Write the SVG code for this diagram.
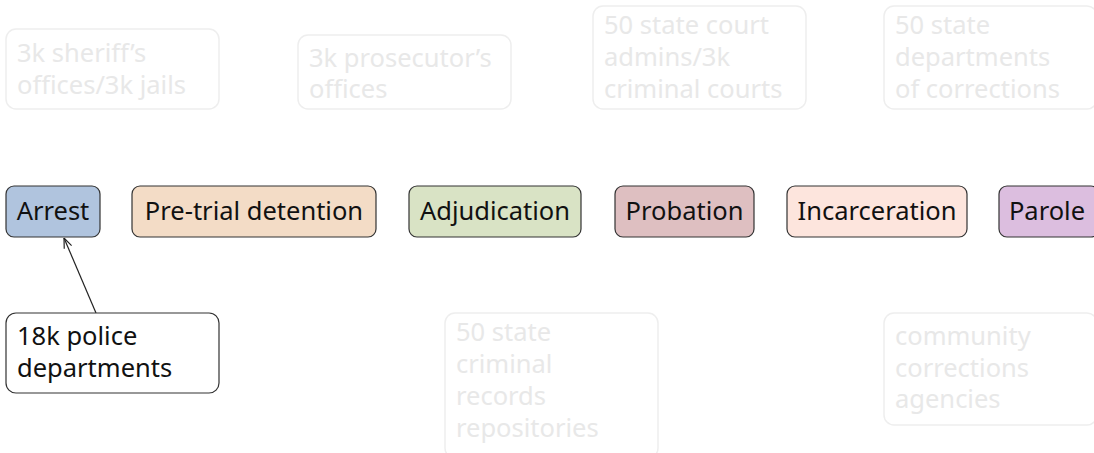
<svg xmlns="http://www.w3.org/2000/svg" width="1094" height="453" viewBox="0 0 1094 453">
<defs>
<style>
.bg{fill:#ffffff}
.node rect{stroke:#333;stroke-width:1.2}
.node text{font-family:"Noto Sans","Open Sans",sans-serif;font-size:25.5px;fill:#111;text-anchor:middle}
.faded rect{fill:#fff;stroke:#eeeeee;stroke-width:1.5}
.faded text{font-family:"Noto Sans","Open Sans",sans-serif;font-size:25.5px;fill:#e8e8e8}
.plain text{font-family:"Noto Sans","Open Sans",sans-serif;font-size:25.5px;fill:#111}
.edge{stroke:#222;stroke-width:1.2;fill:none}
</style>
<marker id="arr" viewBox="0 0 10 10" refX="10" refY="5" markerWidth="10" markerHeight="10" markerUnits="userSpaceOnUse" orient="auto">
<path d="M0,1 L10,5 L0,9" fill="none" stroke="#222" stroke-width="1.2"/>
</marker>
</defs>
<rect class="bg" x="0" y="0" width="1094" height="453"/>

<g id="sheriff" class="faded"><rect x="6" y="29" width="213" height="80" rx="10"/><text x="17" y="62">3k sheriff’s</text><text x="17" y="94">offices/3k jails</text></g>
<g id="prosecutor" class="faded"><rect x="298" y="35" width="213" height="74" rx="10"/><text x="309" y="67">3k prosecutor’s</text><text x="309" y="98">offices</text></g>
<g id="courts" class="faded"><rect x="593" y="6" width="213" height="103" rx="10"/><text x="604" y="34">50 state court</text><text x="604" y="66">admins/3k</text><text x="604" y="98">criminal courts</text></g>
<g id="doc" class="faded"><rect x="884" y="6" width="213" height="103" rx="10"/><text x="895" y="34">50 state</text><text x="895" y="66">departments</text><text x="895" y="98">of corrections</text></g>
<g id="records" class="faded"><rect x="445" y="313" width="213" height="145" rx="10"/><text x="456" y="341">50 state</text><text x="456" y="373">criminal</text><text x="456" y="405">records</text><text x="456" y="437">repositories</text></g>
<g id="community" class="faded"><rect x="884" y="313" width="213" height="112" rx="10"/><text x="895" y="345">community</text><text x="895" y="377">corrections</text><text x="895" y="408">agencies</text></g>

<g id="connectors"><line class="edge" x1="96" y1="313" x2="64" y2="238" marker-end="url(#arr)"/></g>

<g id="arrest" class="node"><rect x="6" y="186" width="94" height="51" rx="8" fill="#b0c4de"/><text x="53" y="220">Arrest</text></g>
<g id="pretrial" class="node"><rect x="132" y="186" width="244" height="51" rx="8" fill="#f3dcc6"/><text x="254" y="220">Pre-trial detention</text></g>
<g id="adjudication" class="node"><rect x="409" y="186" width="172" height="51" rx="8" fill="#d9e3c5"/><text x="495" y="220">Adjudication</text></g>
<g id="probation" class="node"><rect x="615" y="186" width="139" height="51" rx="8" fill="#debfc1"/><text x="684.5" y="220">Probation</text></g>
<g id="incarceration" class="node"><rect x="787" y="186" width="180" height="51" rx="8" fill="#fde5dd"/><text x="877" y="220">Incarceration</text></g>
<g id="parole" class="node"><rect x="999" y="186" width="100" height="51" rx="8" fill="#dcbedf"/><text x="1047" y="220">Parole</text></g>

<g id="police" class="node plain"><rect x="6" y="313" width="213" height="80" rx="10" fill="#fff"/><text x="17" y="345" style="text-anchor:start">18k police</text><text x="17" y="377" style="text-anchor:start">departments</text></g>
</svg>
